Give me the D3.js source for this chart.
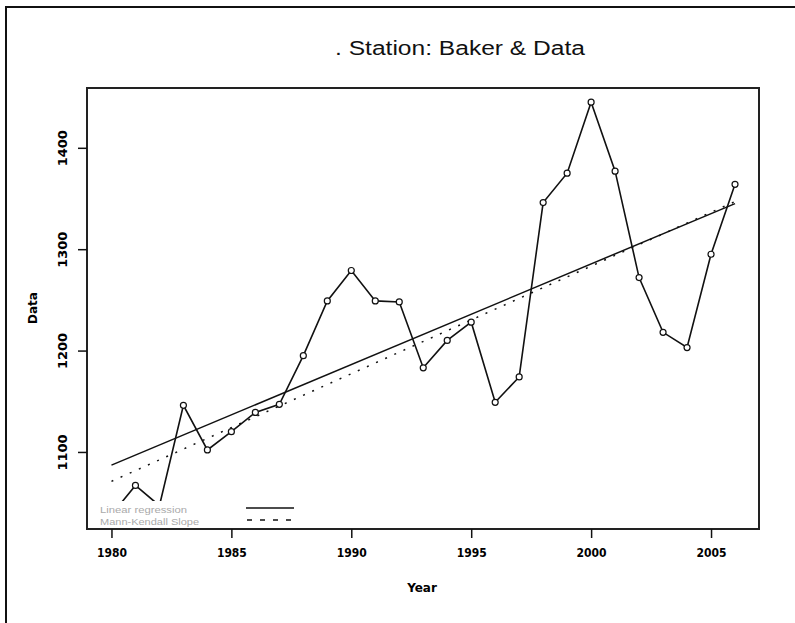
<!DOCTYPE html>
<html><head><meta charset="utf-8">
<script src="https://cdn.jsdelivr.net/npm/d3@7"></script>
<style>
body{margin:0;background:#fff;}
svg{display:block;font-family:"Liberation Sans",Arial,sans-serif;}
</style></head>
<body>
<svg id="chart" width="795" height="623"></svg>
<script>
// ---- data ----
const years = [1980,1981,1982,1983,1984,1985,1986,1987,1988,1989,1990,1991,1992,1993,1994,1995,1996,1997,1998,1999,2000,2001,2002,2003,2004,2005,2006];
const values = [1038,1067,1047,1146,1102,1120,1139,1147,1195,1249,1279,1249,1248,1183,1210,1228,1149,1174,1346,1375,1445,1377,1272,1218,1203,1295,1364];
const regYears = [1980,2006];
const regValues = [1087,1345];
const mkYears = [1980,2006];
const mkValues = [1071,1347];
const xTicks = [1980,1985,1990,1995,2000,2005];
const yTicks = [1100,1200,1300,1400];
const title = ". Station: Baker & Data";
const xLabel = "Year";
const yLabel = "Data";
const legendLabels = ["Linear regression","Mann-Kendall Slope"];

const svg = d3.select("#chart");
const L=87, R=759, T=88, B=529;
const x = d3.scaleLinear().domain([1978.98,2007.0]).range([L,R]);
const y = d3.scaleLinear().domain([1024,1459]).range([B,T]);

// outer frame (top & left)
svg.append("path").attr("d","M6,623 L6,7 L795,7").attr("fill","none").attr("stroke","#111").attr("stroke-width",2);

// title
svg.append("text").attr("x",335).attr("y",55).attr("font-size",20)
  .attr("textLength",250).attr("lengthAdjust","spacingAndGlyphs")
  .attr("fill","#111").text(title);

svg.append("defs").append("clipPath").attr("id","clip")
  .append("rect").attr("x",L).attr("y",T).attr("width",R-L).attr("height",B-T);
const g = svg.append("g").attr("clip-path","url(#clip)");

// regression lines
const line = d3.line().x(d=>x(d[0])).y(d=>y(d[1]));
g.append("path").datum(d3.zip(regYears,regValues)).attr("d",line)
  .attr("fill","none").attr("stroke","#111").attr("stroke-width",1.5);
g.append("path").datum(d3.zip(mkYears,mkValues)).attr("d",line)
  .attr("fill","none").attr("stroke","#111").attr("stroke-width",1.5).attr("stroke-dasharray","2,8");

// data line
g.append("path").datum(d3.zip(years,values)).attr("d",line)
  .attr("fill","none").attr("stroke","#111").attr("stroke-width",1.6);
g.selectAll("circle").data(d3.zip(years,values)).join("circle")
  .attr("cx",d=>x(d[0])).attr("cy",d=>y(d[1])).attr("r",3)
  .attr("fill","#fff").attr("stroke","#111").attr("stroke-width",1.2);

// legend (white background box)
svg.append("rect").attr("x",L+1).attr("y",501).attr("width",215).attr("height",B-501-1).attr("fill","#fff");
svg.append("text").attr("x",100).attr("y",513).attr("font-size",9.5).attr("fill","#aaa")
  .attr("textLength",87).attr("lengthAdjust","spacingAndGlyphs").text(legendLabels[0]);
svg.append("text").attr("x",100).attr("y",525).attr("font-size",9.5).attr("fill","#aaa")
  .attr("textLength",99).attr("lengthAdjust","spacingAndGlyphs").text(legendLabels[1]);
svg.append("line").attr("x1",246).attr("x2",294).attr("y1",508).attr("y2",508)
  .attr("stroke","#111").attr("stroke-width",1.5);
svg.append("line").attr("x1",247).attr("x2",294).attr("y1",520).attr("y2",520)
  .attr("stroke","#111").attr("stroke-width",1.5).attr("stroke-dasharray","5,8");

// plot box
svg.append("rect").attr("x",L).attr("y",T).attr("width",R-L).attr("height",B-T)
  .attr("fill","none").attr("stroke","#222").attr("stroke-width",2);

// x axis
const xAxis = d3.axisBottom(x).tickValues(xTicks).tickSize(9).tickPadding(10).tickFormat(d3.format("d"));
const gx = svg.append("g").attr("transform",`translate(0,${B})`).call(xAxis);
gx.select(".domain").remove();
gx.selectAll("line").attr("stroke","#111").attr("stroke-width",1.5);
gx.selectAll("text").attr("font-size",12).attr("font-weight","bold").attr("fill","#000")
  .attr("font-family","'DejaVu Sans',sans-serif").attr("textLength",30).attr("lengthAdjust","spacingAndGlyphs");

// y axis
const yAxis = d3.axisLeft(y).tickValues(yTicks).tickSize(9).tickPadding(0).tickFormat(d3.format("d"));
const gy = svg.append("g").attr("transform",`translate(${L},0)`).call(yAxis);
gy.select(".domain").remove();
gy.selectAll("line").attr("stroke","#111").attr("stroke-width",1.5);
gy.selectAll("text").attr("x",0).attr("dy",null)
  .attr("transform","translate(-24,0) rotate(-90)")
  .attr("text-anchor","middle").attr("dominant-baseline","central")
  .attr("font-size",12).attr("font-weight","bold").attr("fill","#000")
  .attr("font-family","'DejaVu Sans',sans-serif").attr("textLength",36).attr("lengthAdjust","spacingAndGlyphs");

// axis labels
svg.append("text").attr("x",422).attr("y",592).attr("text-anchor","middle")
  .attr("font-size",12).attr("font-weight","bold").attr("font-family","'DejaVu Sans',sans-serif")
  .text(xLabel);
svg.append("text").attr("transform","translate(37,308) rotate(-90)").attr("text-anchor","middle")
  .attr("font-size",12).attr("font-weight","bold").attr("font-family","'DejaVu Sans',sans-serif")
  .text(yLabel);
</script>
</body></html>
